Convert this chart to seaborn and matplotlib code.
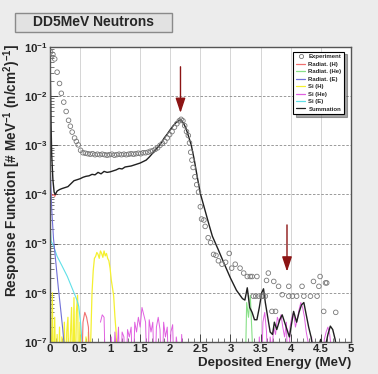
import numpy as np
import pandas as pd
import matplotlib
matplotlib.use('Agg')
import matplotlib.pyplot as plt
import seaborn as sns
from matplotlib.lines import Line2D
from matplotlib.patches import Rectangle
from matplotlib.ticker import MultipleLocator, FixedLocator, FuncFormatter, NullFormatter

# --- data (log10 of response function) ---
exp_x = [0.01, 0.05, 0.08, 0.12, 0.16, 0.19, 0.23, 0.27, 0.31, 0.34,
         0.37, 0.41, 0.44, 0.47, 0.51,
         0.55, 0.59, 0.63, 0.67, 0.71, 0.75, 0.79, 0.83, 0.87, 0.91,
         0.95, 0.99, 1.03, 1.07, 1.11, 1.15, 1.19, 1.23, 1.27, 1.31,
         1.35, 1.39, 1.43, 1.47, 1.51, 1.55, 1.59, 1.63, 1.67, 1.71,
         1.75, 1.79, 1.83, 1.87, 1.91, 1.95, 1.99, 2.03, 2.07, 2.11,
         2.15, 2.18, 2.21, 2.24, 2.27, 2.30, 2.32, 2.34, 2.36, 2.38,
         2.41, 2.44, 2.47, 2.50, 2.52, 2.56, 2.58, 2.63, 2.67, 2.72,
         2.76, 2.80, 2.86, 2.92, 2.98, 3.02, 3.08, 3.16, 3.22, 3.28,
         3.33, 3.36, 3.38, 3.42, 3.44, 3.47, 3.52, 3.55, 3.58, 3.60,
         3.63, 3.69, 3.72, 3.75, 3.80, 3.86, 3.97, 3.97, 4.03, 4.10,
         4.19, 4.22, 4.33, 4.38, 4.44, 4.47, 4.49, 4.55, 4.58, 4.60,
         4.75]
exp_log = [-1.10, -1.15, -1.24, -1.51, -1.74, -1.94, -2.12, -2.31, -2.49, -2.61,
           -2.73, -2.85, -2.92, -2.99, -3.10,
           -3.15, -3.16, -3.17, -3.18, -3.17, -3.19, -3.18, -3.19, -3.18, -3.19,
           -3.20, -3.19, -3.18, -3.20, -3.19, -3.18, -3.19, -3.18, -3.19, -3.18,
           -3.17, -3.18, -3.17, -3.16, -3.17, -3.15, -3.15, -3.14, -3.12, -3.11,
           -3.08, -3.05, -3.00, -2.96, -2.92, -2.85, -2.78, -2.72, -2.63, -2.56,
           -2.50, -2.47, -2.50, -2.60, -2.72, -2.80, -2.95, -3.14, -3.30, -3.45,
           -3.64, -3.80, -3.95, -4.25, -4.50, -4.52, -4.65, -4.88, -4.98, -5.22,
           -5.24, -5.35, -5.42, -5.38, -5.20, -5.50, -5.42, -5.50, -5.60, -5.67,
           -5.67, -5.67, -6.07, -6.07, -5.67, -6.07, -6.07, -6.07, -6.07, -5.75,
           -5.60, -6.38, -5.77, -6.38, -5.87, -6.04, -5.87, -6.07, -6.07, -6.07,
           -5.87, -6.07, -6.07, -5.77, -6.07, -5.87, -5.67, -6.38, -5.80, -5.80,
           -6.40]

sum_x = [0.0, 0.01, 0.02, 0.03, 0.05, 0.07, 0.09, 0.12, 0.16, 0.2,
         0.25, 0.3, 0.35, 0.4, 0.45, 0.5, 0.55, 0.6, 0.65, 0.7, 0.75, 0.8, 0.85, 0.9, 0.95, 1.0,
         1.05, 1.1, 1.15, 1.2, 1.25, 1.3, 1.35, 1.4, 1.45, 1.5, 1.55, 1.6, 1.65, 1.7, 1.75, 1.8,
         1.85, 1.9, 1.95, 2.0, 2.05, 2.1, 2.15,
         2.18, 2.22, 2.26, 2.3, 2.35, 2.4, 2.45, 2.5, 2.55, 2.6, 2.65, 2.7,
         2.8, 2.9, 3.0, 3.1, 3.2,
         3.24, 3.28, 3.32, 3.36, 3.4, 3.44, 3.48, 3.52, 3.55, 3.58, 3.62, 3.66, 3.7, 3.73, 3.77,
         3.82, 3.86, 3.9, 3.94, 3.98,
         4.02, 4.05, 4.1, 4.14, 4.18, 4.22, 4.26, 4.3, 4.34, 4.38,
         4.44, 4.5, 4.56, 4.62, 4.66, 4.7, 4.74, 4.78]
sum_log = [-1.2, -1.8, -2.6, -3.2, -3.7, -3.95, -4.0, -3.93, -3.9, -3.88,
           -3.86, -3.84, -3.78, -3.72, -3.7, -3.68, -3.65, -3.63, -3.62, -3.59, -3.6, -3.55, -3.58,
           -3.53, -3.55, -3.54,
           -3.52, -3.5, -3.47, -3.48, -3.44, -3.43, -3.42, -3.4, -3.38, -3.36, -3.33, -3.3, -3.24,
           -3.17, -3.1, -3.03, -2.95, -2.85, -2.77, -2.68, -2.6, -2.53, -2.49,
           -2.48, -2.55, -2.65, -2.8, -3.0, -3.3, -3.65, -3.98, -4.2, -4.42, -4.64, -4.85,
           -5.13, -5.42, -5.7, -5.95, -6.12,
           -6.15, -5.9, -6.3, -6.4, -6.55, -6.55, -6.3, -6.0, -5.92, -6.2, -6.5, -6.8, -6.85, -6.6,
           -6.75, -6.55, -6.45, -6.6, -6.75, -6.9,
           -6.6, -6.38, -6.6, -6.4, -6.25, -6.2, -6.45, -6.7, -6.9, -7.2,
           -7.2, -6.95, -7.2, -6.85, -6.68, -6.75, -6.95, -7.3]

rad_e_x = [0.0, 0.01, 0.03, 0.06, 0.10, 0.14, 0.18, 0.21, 0.24]
rad_e_log = [-3.0, -3.6, -4.3, -4.9, -5.4, -5.9, -6.35, -6.7, -7.1]

si_e_x = [0.0, 0.02, 0.06, 0.12, 0.20, 0.29, 0.35, 0.40, 0.45, 0.48, 0.51, 0.54]
si_e_log = [-4.5, -4.95, -5.05, -5.26, -5.45, -5.67, -5.85, -6.0, -6.15, -6.28, -6.62, -7.1]

rad_h_x = [0.02, 0.04, 0.06, 0.08, 0.10, 0.52, 0.55, 0.58, 0.61, 0.64, 0.67]
rad_h_log = [-3.98, -4.02, -4.0, -4.04, -4.0, -8.0, -6.6, -6.4, -6.5, -6.7, -8.0]
rad_h_seg = [0, 0, 0, 0, 0, 1, 1, 1, 1, 1, 1]

rad_he_x = [3.24, 3.27, 3.30, 3.33, 3.36, 3.39]
rad_he_log = [-8.0, -6.2, -6.5, -6.05, -6.9, -8.0]

# Si (H): bins 0.00 .. 1.14 every 0.02
si_h_log = [-5.9, -8, -6.0, -8, -6.5, -8, -6.85, -8, -6.7, -8,
            -6.9, -7.5, -6.6, -8, -6.8, -6.5, -8, -6.9, -6.3, -8,
            -6.1, -8, -6.4, -6.05, -8, -6.6, -8, -6.9, -8, -7.5,
            -6.9, -8, -6.8, -8, -6.9, -6.0, -5.55, -5.3, -5.26, -5.18,
            -5.22, -5.3, -5.15, -5.2, -5.28, -5.15, -5.25, -5.2, -5.3, -5.35,
            -5.5, -5.74, -5.9, -6.07, -6.48, -6.8, -8, -8]
si_h_x = np.linspace(0.0, 1.14, len(si_h_log))

# Si (He): two noisy stretches, bins every 0.03
si_he_log_a = [-6.6, -6.45, -6.5, -8, -7.2, -8, -6.9, -8, -6.8, -7.3,
               -6.7, -8, -6.8, -6.9, -8, -6.75, -6.9, -6.7, -8, -6.6,
               -6.8, -6.5, -6.7, -6.3, -6.45, -6.6, -8, -6.55, -6.8, -6.6,
               -8, -6.7, -6.5, -6.75, -8, -6.6, -6.9, -6.7, -8, -6.8,
               -6.65, -8, -6.9, -7.2, -8, -6.85, -8, -7.3, -8]
si_he_x_a = np.linspace(0.84, 2.28, len(si_he_log_a))
si_he_log_b = [-8, -6.9, -8, -6.6, -6.4, -6.8, -8, -6.9, -7.2, -6.7,
               -6.85, -6.5, -6.6, -6.45, -6.7, -6.9, -6.6, -8, -6.7, -6.5,
               -6.4, -6.7, -6.55, -6.35, -6.2, -6.3, -6.5, -6.8, -7.0, -8,
               -6.9, -8, -7.3, -8, -8, -7.1, -8, -6.95, -6.8, -6.7,
               -6.85, -7.2, -8]
si_he_x_b = np.linspace(3.45, 4.71, len(si_he_log_b))

y_decades = [-7, -6, -5, -4, -3, -2, -1]

colors = {
    'Radiat. (H)': '#f07070',
    'Radiat. (He)': '#88e088',
    'Radiat. (E)': '#7070d8',
    'Si (H)': '#f4f030',
    'Si (He)': '#e060e0',
    'Si (E)': '#60e0e8',
    'Summation': '#202020',
}

sns.set_theme(style='white')
plt.rcParams['font.family'] = ['Liberation Sans', 'DejaVu Sans']
plt.rcParams['font.weight'] = 'bold'
plt.rcParams['mathtext.fontset'] = 'custom'
plt.rcParams['mathtext.bf'] = 'Liberation Sans:bold'
plt.rcParams['mathtext.rm'] = 'Liberation Sans:bold'
plt.rcParams['mathtext.default'] = 'bf'

fig = plt.figure(figsize=(3.78, 3.74), dpi=100, facecolor='#ececec')
ax = fig.add_axes([0.132, 0.086, 0.796, 0.788])
ax.set_facecolor('white')


def draw(x, logy, color, lw=0.8, units=None):
    df = pd.DataFrame({'x': x, 'y': np.power(10.0, logy)})
    if units is None:
        sns.lineplot(data=df, x='x', y='y', color=color, lw=lw, sort=False,
                     estimator=None, ax=ax)
    else:
        df['seg'] = units
        sns.lineplot(data=df, x='x', y='y', units='seg', color=color, lw=lw,
                     sort=False, estimator=None, ax=ax)


# components
draw(si_h_x, si_h_log, colors['Si (H)'], lw=0.9)
draw(si_he_x_a, si_he_log_a, colors['Si (He)'], lw=0.7)
draw(si_he_x_b, si_he_log_b, colors['Si (He)'], lw=0.7)
draw(si_e_x, si_e_log, colors['Si (E)'])
draw(rad_he_x, rad_he_log, colors['Radiat. (He)'])
draw(rad_h_x, rad_h_log, colors['Radiat. (H)'], units=rad_h_seg)
draw(rad_e_x, rad_e_log, colors['Radiat. (E)'])
draw(sum_x, sum_log, colors['Summation'], lw=1.0)

exp_df = pd.DataFrame({'x': exp_x, 'y': np.power(10.0, exp_log)})
sns.scatterplot(data=exp_df, x='x', y='y', marker='o', s=11,
                facecolors='none', edgecolor='#777777', linewidth=0.6, ax=ax, zorder=5)

# arrows marking the peaks
arrow_kw = dict(arrowstyle='-|>,head_length=0.75,head_width=0.25',
                color='#8c1414', lw=1.0, shrinkA=0, shrinkB=0)
ax.annotate('', xy=(2.17, 10**-2.34), xytext=(2.17, 10**-1.4), arrowprops=arrow_kw)
ax.annotate('', xy=(3.94, 10**-5.57), xytext=(3.94, 10**-4.62), arrowprops=arrow_kw)

ax.set_yscale('log')
ax.set_xlim(0, 5)
ax.set_ylim(1e-7, 1e-1)

ax.xaxis.set_major_locator(MultipleLocator(0.5))
ax.xaxis.set_minor_locator(MultipleLocator(0.1))
ax.xaxis.set_major_formatter(FuncFormatter(lambda v, p: f'{v:g}'))
ax.yaxis.set_major_locator(FixedLocator([10.0 ** d for d in y_decades]))
ax.yaxis.set_minor_locator(FixedLocator([m * 10.0 ** d for d in y_decades[:-1]
                                         for m in range(2, 10)]))
ax.yaxis.set_minor_formatter(NullFormatter())
ax.yaxis.set_major_formatter(FuncFormatter(
    lambda v, p: r'$\mathbf{10^{%d}}$' % int(round(np.log10(v)))))

ax.tick_params(axis='both', which='major', direction='in', length=6, width=0.7,
               labelsize=8.2, pad=1.5, color='#444444')
ax.tick_params(axis='both', which='minor', direction='in', length=3, width=0.5,
               color='#444444')
ax.tick_params(axis='x', which='both', bottom=True, top=False)
ax.tick_params(axis='y', which='both', left=True, right=False)

ax.grid(False)
ax.grid(axis='y', which='major', ls=(0, (3, 2)), color='#8a8a8a', lw=0.6)
ax.grid(axis='x', which='major', ls='-', color='#cfcfcf', lw=0.6)
ax.set_axisbelow(True)

for sp in ax.spines.values():
    sp.set_color('#555555')
    sp.set_linewidth(1.0)

ax.set_xlabel('Deposited Energy (MeV)', fontsize=9.6, fontweight='bold', ha='right',
              va='top')
ax.xaxis.set_label_coords(1.0, -0.052)
ax.set_ylabel(r'Response Function [# MeV$^{-1}$ (n/cm$^{2}$)$^{-1}$]',
              fontsize=9.8, fontweight='bold', loc='top', va='center')
ax.yaxis.set_label_coords(-0.126, 1.012)

# legend
handles = [Line2D([], [], ls='none', marker='o', ms=3, mfc='none', mec='#777777', mew=0.6)]
labels = ['Experiment']
for name in ['Radiat. (H)', 'Radiat. (He)', 'Radiat. (E)', 'Si (H)', 'Si (He)', 'Si (E)', 'Summation']:
    handles.append(Line2D([], [], color=colors[name], lw=0.9))
    labels.append(name)
leg = ax.legend(handles, labels, loc='upper right', bbox_to_anchor=(0.978, 0.985),
                borderaxespad=0, fontsize=4.3, handlelength=1.6, handletextpad=0.5,
                borderpad=0.45, labelspacing=0.38, frameon=True, fancybox=False,
                shadow=True, edgecolor='black', facecolor='white', framealpha=1)
leg.get_frame().set_linewidth(0.8)

# title box
fig.patches.append(Rectangle((0.040, 0.914), 0.415, 0.052, transform=fig.transFigure,
                             facecolor='#e2e2e2', edgecolor='#8a8a8a', lw=1.0))
fig.text(0.247, 0.940, 'DD5MeV Neutrons', ha='center', va='center',
         fontsize=10, fontweight='bold')

fig.savefig('out.png', dpi=100, facecolor=fig.get_facecolor())
